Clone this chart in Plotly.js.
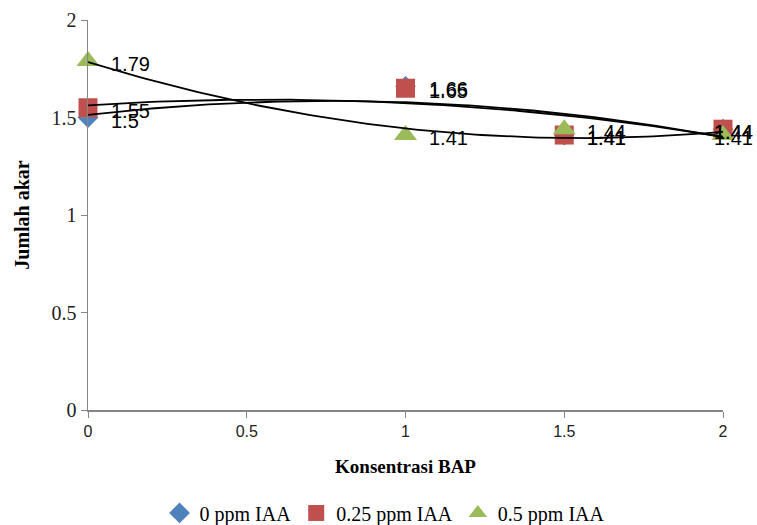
<!DOCTYPE html>
<html>
<head>
<meta charset="utf-8">
<script src="https://cdn.plot.ly/plotly-3.0.1.min.js"></script>
<style>html,body{margin:0;padding:0;background:#fff;}#chart{width:757px;height:525px;}</style>
</head>
<body>
<div id="chart"></div>
<script>
const bapConc = [0, 1, 1.5, 2];
const iaa0 = [1.5, 1.66, 1.41, 1.44];
const iaa025 = [1.55, 1.65, 1.41, 1.44];
const iaa05 = [1.79, 1.41, 1.44, 1.41];
const seriesNames = ['0 ppm IAA', '0.25 ppm IAA', '0.5 ppm IAA'];
const xTicks = [0, 0.5, 1, 1.5, 2];
const yTicks = [0, 0.5, 1, 1.5, 2];

// Quadratic least-squares trendline (as in Excel "Polynomial, order 2")
function quadFit(xs, ys) {
  let s = [0,0,0,0,0], t = [0,0,0];
  for (let i = 0; i < xs.length; i++) {
    for (let k = 0; k < 5; k++) s[k] += Math.pow(xs[i], k);
    for (let k = 0; k < 3; k++) t[k] += ys[i] * Math.pow(xs[i], k);
  }
  const A = [[s[0], s[1], s[2], t[0]], [s[1], s[2], s[3], t[1]], [s[2], s[3], s[4], t[2]]];
  for (let c = 0; c < 3; c++) {
    for (let r = c + 1; r < 3; r++) {
      const f = A[r][c] / A[c][c];
      for (let k = c; k < 4; k++) A[r][k] -= f * A[c][k];
    }
  }
  const b = [0,0,0];
  for (let r = 2; r >= 0; r--) {
    let v = A[r][3];
    for (let k = r + 1; k < 3; k++) v -= A[r][k] * b[k];
    b[r] = v / A[r][r];
  }
  return b;
}
function trend(xs, ys) {
  const b = quadFit(xs, ys);
  const tx = [], ty = [];
  const n = 100, x0 = xs[0], x1 = xs[xs.length - 1];
  for (let i = 0; i <= n; i++) {
    const x = x0 + (x1 - x0) * i / n;
    tx.push(x); ty.push(b[0] + b[1] * x + b[2] * x * x);
  }
  return {tx, ty};
}

const colors = ['#4F81BD', '#C0504D', '#9BBB59'];
const symbols = ['diamond', 'square', 'triangle-up'];
const sizes = [16, 19, 20];
const all = [iaa0, iaa025, iaa05];

const traces = [];
all.forEach((ys, i) => {
  traces.push({
    x: bapConc, y: ys, type: 'scatter', mode: 'markers', name: seriesNames[i],
    marker: {color: colors[i], symbol: symbols[i], size: sizes[i]},
    cliponaxis: false
  });
});
all.forEach((ys, i) => {
  const t = trend(bapConc, ys);
  traces.push({
    x: t.tx, y: t.ty, type: 'scatter', mode: 'lines', showlegend: false,
    line: {color: '#000', width: 1.8}, hoverinfo: 'skip', cliponaxis: false
  });
});

const annotations = [];
all.forEach((ys, i) => {
  ys.forEach((v, j) => {
    const last = j === ys.length - 1;
    annotations.push({
      x: bapConc[j], y: v, xref: 'x', yref: 'y', text: String(v), showarrow: false,
      xanchor: 'left', yanchor: 'middle', xshift: last ? -11 : 21, yshift: -3,
      font: {family: '"Liberation Sans", Arial, sans-serif', size: 20, color: '#000'}
    });
  });
});

const serif = '"Liberation Serif", "Times New Roman", serif';
const sans = '"Liberation Sans", Arial, sans-serif';
const layout = {
  width: 757, height: 525,
  margin: {l: 88, r: 34, t: 20, b: 115, autoexpand: false},
  paper_bgcolor: '#fff', plot_bgcolor: '#fff',
  showlegend: true,
  annotations: annotations,
  legend: {orientation: 'h', x: 0.467, xanchor: 'center', y: -0.264, yanchor: 'middle',
    font: {family: serif, size: 20, color: '#000'},
    itemwidth: 30, tracegroupgap: 0},
  xaxis: {
    range: [0, 2], tickvals: xTicks, ticktext: xTicks.map(String),
    showgrid: false, zeroline: false, showline: true, linecolor: '#868686', linewidth: 1.5,
    ticks: 'outside', ticklen: 6, tickcolor: '#868686',
    tickfont: {family: sans, size: 16, color: '#222'},
    title: {text: '<b>Konsentrasi BAP</b>', standoff: 21,
      font: {family: serif, size: 19, color: '#000'}}
  },
  yaxis: {
    range: [0, 2], tickvals: yTicks, ticktext: yTicks.map(String),
    showgrid: false, zeroline: false, showline: true, linecolor: '#868686', linewidth: 1.5,
    ticks: 'outside', ticklen: 6, tickcolor: '#868686',
    tickfont: {family: serif, size: 20, color: '#222'},
    title: {text: '<b>Jumlah akar</b>', standoff: 16,
      font: {family: serif, size: 20, color: '#000'}}
  }
};

Plotly.newPlot('chart', traces, layout, {displayModeBar: false, staticPlot: true});
</script>
</body>
</html>
